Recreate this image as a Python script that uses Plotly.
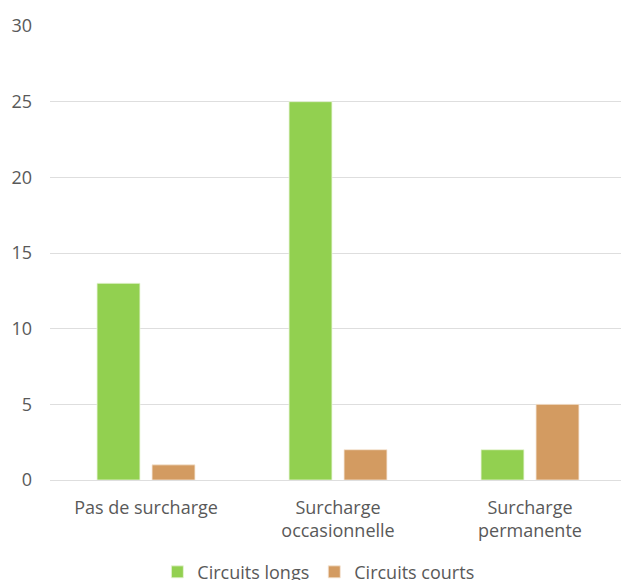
import plotly.graph_objects as go

categories = ["Pas de surcharge", "Surcharge<br>occasionnelle", "Surcharge<br>permanente"]
longs = [13, 25, 2]
courts = [1, 2, 5]
y_ticks = [0, 5, 10, 15, 20, 25, 30]

GREEN = "#92D050"
ORANGE = "#D39B61"
TEXT = "#595959"
GRID = "#DEDEDE"
FONT = "Open Sans"
FS = 18

fig = go.Figure()
fig.add_trace(go.Bar(x=categories, y=longs, name="Circuits longs",
                     marker=dict(color=GREEN, line=dict(color="#E8F5D8", width=0.8))))
fig.add_trace(go.Bar(x=categories, y=courts, name="Circuits courts",
                     marker=dict(color=ORANGE, line=dict(color="#F5E6D6", width=0.8))))

fig.update_layout(
    width=621, height=580,
    margin=dict(l=50, r=0, t=26, b=100, autoexpand=False),
    paper_bgcolor="white", plot_bgcolor="white",
    barmode="group", bargap=0.427, bargroupgap=0.22,
    font=dict(family=FONT, size=FS, color=TEXT),
    showlegend=True,
    legend=dict(orientation="h", x=0.470, xanchor="center", y=-0.203, yanchor="middle",
                font=dict(family=FONT, size=FS, color=TEXT), itemwidth=30,
                traceorder="normal"),
)
fig.update_xaxes(range=[-0.5, 2.474], showgrid=False, showline=False, ticks="",
                 ticklabelstandoff=15, tickfont=dict(family=FONT, size=FS, color=TEXT))
fig.update_yaxes(range=[0, 30], tickvals=y_ticks, showgrid=True, gridcolor=GRID, gridwidth=1.3,
                 zeroline=True, zerolinecolor=GRID, zerolinewidth=1.3, showline=False, ticks="",
                 ticklabelstandoff=17, tickfont=dict(family=FONT, size=FS, color=TEXT))

fig.write_html("out.html")
